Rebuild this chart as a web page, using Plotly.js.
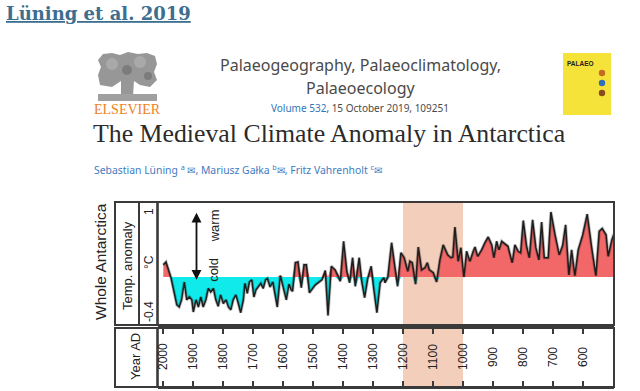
<!DOCTYPE html>
<html><head><meta charset="utf-8">
<script src="https://cdn.plot.ly/plotly-3.0.1.min.js"></script>
<style>html,body{margin:0;padding:0;background:#fff;}#chart{width:640px;height:391px;}</style>
</head><body><div id="chart"></div>
<script>
// ---- data ----
const years = [1999,1990,1974,1963,1954,1946,1938,1929,1921,1912,1904,1899,1890,1882,1874,1866,1857,1849,1841,1832,
1824,1816,1808,1799,1790,1782,1774,1766,1757,1749,1741,1732,1727,1719,1712,1704,1697,1690,1682,1674,1666,1658,1652,1643,1634,
1627,1619,1609,1598,1589,1580,1573,1568,1559,1550,1539,1530,1522,1512,1492,1470,1459,1450,1439,1426,
1409,1398,1387,1378,1368,1359,1346,1337,1328,1317,1306,1298,1287,1276,1264,1260,1251,
1238,1227,1218,1207,1196,1184,1177,1169,1158,1149,1138,1127,1119,1112,1099,1088,1077,1066,1051,1040,
1034,1027,1016,1007,997,988,977,966,960,951,938,927,916,904,897,888,880,871,
859,850,836,827,816,808,799,788,779,768,757,747,738,729,716,707,693,679,668,658,
647,638,627,616,601,586,571,557,546,536,523,516,504,497];
const temps = [0.26,0.30,0.09,-0.12,-0.30,-0.33,-0.23,0.02,-0.23,-0.19,-0.23,-0.40,-0.23,-0.33,-0.19,-0.33,-0.23,-0.07,-0.12,-0.07,
-0.23,-0.32,-0.16,-0.28,-0.23,-0.33,-0.37,-0.23,-0.16,-0.28,-0.41,-0.23,0.00,-0.14,0.02,0.05,-0.19,-0.09,-0.05,0.00,-0.07,0.05,0.07,-0.05,0.02,
-0.14,-0.33,0.11,-0.06,-0.23,-0.01,-0.09,-0.11,0.29,0.30,-0.06,0.26,0.26,-0.13,-0.02,0.05,0.18,-0.45,0.24,0.19,
0.03,0.59,0.17,0.01,0.36,-0.04,0.36,0.01,-0.20,0.08,0.24,-0.06,-0.41,0.01,0.08,0.01,0.08,
0.57,0.24,-0.04,0.43,0.36,0.17,0.31,0.29,-0.01,0.51,0.19,0.22,0.29,0.19,0.15,0.02,0.33,0.54,0.40,0.36,
0.37,0.79,0.31,0.50,0.09,0.45,0.31,0.45,0.51,0.38,0.47,0.57,0.65,0.54,0.36,0.59,0.47,0.59,
0.55,0.52,0.29,0.54,0.45,0.43,0.88,0.52,0.36,0.89,0.50,0.33,0.86,0.36,0.36,1.00,0.68,0.40,0.53,0.82,
0.12,0.47,0.11,0.47,0.68,0.97,0.50,0.11,0.73,0.77,0.68,0.38,0.61,0.69];
const baseline = 0.09;
const yearTicks = [2000,1900,1800,1700,1600,1500,1400,1300,1200,1100,1000,900,800,700,600,500];
const yearTickLabels = ['2000','1900','1800','1700','1600','1500','1400','1300','1200','1100','1000','900','800','700','600',''];
const tempTicks = [-0.4, 0.3, 1];
const tempTickLabels = ['-0.4','°C','1'];
const mcaStart = 1200, mcaEnd = 1000;

// ---- helpers (pixel -> paper) ----
const W = 640, H = 391;
const px = v => v / W, py = v => 1 - v / H;
const yr = p => 2000 - (p - 163) / 0.3;

const RED = 'rgb(242,104,104)', CYAN = 'rgb(16,234,234)';
const upper = temps.map(v => Math.max(v, baseline));
const lower = temps.map(v => Math.min(v, baseline));
const base = years.map(() => baseline);
const common = {mode:'lines', hoverinfo:'skip', showlegend:false};
const traces = [
  Object.assign({x:years, y:base, line:{width:0}}, common),
  Object.assign({x:years, y:upper, line:{width:0}, fill:'tonexty', fillcolor:RED}, common),
  Object.assign({x:years, y:base, line:{width:0}}, common),
  Object.assign({x:years, y:lower, line:{width:0}, fill:'tonexty', fillcolor:CYAN}, common),
  Object.assign({x:years, y:temps, line:{color:'rgba(0,0,0,0.25)', width:3.2}}, common),
  Object.assign({x:years, y:temps, line:{color:'#1e1e1e', width:1.5}}, common)
];

const LC = '#3a3a3a';
const line = (x0,y0,x1,y1,w) => ({type:'line', xref:'paper', yref:'paper', x0:px(x0), y0:py(y0), x1:px(x1), y1:py(y1), line:{color:LC, width:w||2}, layer:'above'});
const rect = (x0,y0,x1,y1,fill,lw,lc) => ({type:'rect', xref:'paper', yref:'paper', x0:px(x0), y0:py(y0), x1:px(x1), y1:py(y1), fillcolor:fill, line:{width:lw||0, color:lc||LC}, layer:'above'});
const circ = (cx,cy,r,fill,op) => ({type:'circle', xref:'paper', yref:'paper', x0:px(cx-r), x1:px(cx+r), y0:py(cy+r), y1:py(cy-r), fillcolor:fill, opacity:op||1, line:{width:0}, layer:'above'});
const poly = (pts,fill,op) => ({type:'path', xref:'paper', yref:'paper', path:'M' + pts.map(p => px(p[0]).toFixed(5) + ',' + py(p[1]).toFixed(5)).join('L') + 'Z', fillcolor:fill, opacity:op||1, line:{width:0}, layer:'above'});

const shapes = [
  // Medieval Climate Anomaly band
  {type:'rect', xref:'x', yref:'paper', x0:mcaStart, x1:mcaEnd, y0:py(387), y1:py(202), fillcolor:'rgb(243,206,186)', line:{width:0}, layer:'below'},
  // frames
  rect(115,202,614,325,'rgba(0,0,0,0)',2),
  line(139,202,139,325),
  line(157.5,202,157.5,325,2.6),
  rect(115,328,614,387,'rgba(0,0,0,0)',2),
  line(157.5,328,157.5,387,2.6),
  // Elsevier tree logo (approximation)
  poly([[98,60],[103,54],[112,53],[120,55],[128,52],[138,54],[147,53],[155,56],[157,64],[154,72],[157,80],[150,87],[140,85],[134,81],[133,96],[121,96],[121,81],[112,87],[100,85],[98,75],[101,67]],'#8c8c8c',0.9),
  circ(112,64,6,'#b5b5b5',0.6), circ(140,62,6,'#b5b5b5',0.6), circ(127,70,5,'#6a6a6a',0.6), circ(148,76,4,'#6a6a6a',0.6),
  rect(98,94,157,101,'#a0a0a0'),
  // journal cover
  rect(563,53,611,115,'rgb(245,227,58)'),
  circ(602,73,3.2,'#c46a22'), circ(602,83,3.2,'#2f6fb8'), circ(602,93,3.2,'#8a4a1e')
];

const ann = [];
const A = (x,y,text,size,color,family,extra) => ann.push(Object.assign({xref:'paper', yref:'paper', x:px(x), y:py(y), xanchor:'center', yanchor:'middle', text:text, showarrow:false, font:{family:family||'Liberation Sans', size:size, color:color}}, extra||{}));

// header
A(4,14,'<b><u>Lüning et al. 2019</u></b>',18,'#3b6e8f','DejaVu Serif',{xanchor:'left'});
A(360,65,'Palaeogeography, Palaeoclimatology,',16,'#4a4a4a','Noto Sans');
A(360,88,'Palaeoecology',16,'#4a4a4a','Noto Sans');
A(360,108,"<span style='color:#2f77b8'>Volume 532</span>, 15 October 2019, 109251",10,'#4a4a4a','Noto Sans');
A(127,109,'ELSEVIER',14,'#f07f1e','Liberation Serif');
A(329,133,'The Medieval Climate Anomaly in Antarctica',25.8,'#2b2b2b','Liberation Serif');
A(92,169,'Sebastian Lüning <sup>a</sup> ✉, Mariusz Gałka <sup>b</sup>✉, Fritz Vahrenholt <sup>c</sup>✉',10.4,'#3e7cbf','Noto Sans',{xanchor:'left'});
A(565,63,'<b>PALAEO</b>',6.5,'#222','Liberation Sans',{xanchor:'left'});

// chart labels
A(100,262,'Whole Antarctica',15.5,'#222','Liberation Sans',{textangle:-90});
A(127,266,'Temp. anomaly',13,'#222','Liberation Sans',{textangle:-90});
A(135,357,'Year AD',13,'#222','Liberation Sans',{textangle:-90});
tempTicks.forEach((t,i) => ann.push({xref:'paper', yref:'y', x:px(149), y:t, xanchor:'center', yanchor:'middle', text:tempTickLabels[i], textangle:-90, showarrow:false, font:{family:'Liberation Sans', size:12, color:'#222'}}));
yearTicks.forEach((t,i) => { if (yearTickLabels[i]) ann.push({xref:'x2', yref:'paper', x:t, y:py(357), xanchor:'center', yanchor:'middle', text:yearTickLabels[i], textangle:-90, showarrow:false, font:{family:'Liberation Sans', size:12, color:'#222'}}); });
ann.push({xref:'x', yref:'y', x:yr(214), y:0.80, xanchor:'center', yanchor:'middle', text:'warm', textangle:-90, showarrow:false, font:{family:'Liberation Sans', size:13, color:'#222'}});
ann.push({xref:'x', yref:'y', x:yr(214), y:0.19, xanchor:'center', yanchor:'middle', text:'cold', textangle:-90, showarrow:false, font:{family:'Liberation Sans', size:13, color:'#222'}});
ann.push({xref:'x', yref:'y', x:yr(196.5), y:0.99, axref:'x', ayref:'y', ax:yr(196.5), ay:0.03, text:'', showarrow:true, arrowhead:2, arrowside:'end+start', arrowsize:1.1, arrowwidth:1.8, arrowcolor:'#111'});

const layout = {
  width:W, height:H, margin:{l:0,r:0,t:0,b:0},
  paper_bgcolor:'#fff', plot_bgcolor:'rgba(0,0,0,0)', showlegend:false,
  xaxis:{domain:[px(158), px(614)], range:[yr(158), yr(614)], showticklabels:false, ticks:'', showgrid:false, zeroline:false, showline:false},
  yaxis:{domain:[py(325), py(202)], range:[1-(325-212)*0.014, 1+(212-202)*0.014], showticklabels:false, ticks:'', showgrid:false, zeroline:false, showline:false},
  xaxis2:{domain:[px(158), px(614)], anchor:'y2', range:[yr(158), yr(614)], tickvals:yearTicks, ticks:'inside', ticklen:6, tickwidth:2, tickcolor:LC, mirror:'allticks', showline:true, linecolor:LC, linewidth:2, showticklabels:false, showgrid:false, zeroline:false},
  yaxis2:{domain:[py(387), py(328)], anchor:'x2', range:[0,1], showticklabels:false, ticks:'', showgrid:false, zeroline:false, showline:false},
  shapes:shapes, annotations:ann
};
Plotly.newPlot('chart', traces, layout, {staticPlot:true, displayModeBar:false});
</script></body></html>
